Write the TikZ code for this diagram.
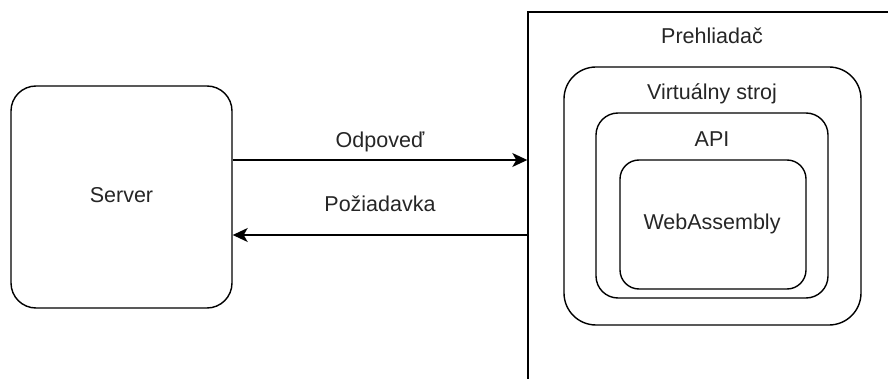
\documentclass[tikz,border=0pt]{standalone}
\usepackage{fontspec}
\setmainfont{Liberation Sans}
\usetikzlibrary{arrows.meta}
\begin{document}
\begin{tikzpicture}[x=1pt,y=-1pt,
  box/.style={draw=black,line width=1.4pt,fill=white,inner sep=0pt,rectangle},
  txt/.style={inner sep=0pt,anchor=base,font=\fontsize{21.5}{24}\selectfont,text=black!85},
  arr/.style={line width=1.4pt,-{Stealth[length=15pt,width=14pt,inset=4pt]}}]
\useasboundingbox (0,0) rectangle (888,379);
\clip (0,0) rectangle (888,379);
\fill[white] (0,0) rectangle (888,379);
% boxes
\node[box,rounded corners=25pt,minimum width=221pt,minimum height=222pt] (server) at (121.5,197) {};
\node[box,minimum width=392pt,minimum height=408pt] (browser) at (724,216) {};
\node[box,rounded corners=32pt,minimum width=297pt,minimum height=258pt] (vm) at (712.5,196) {};
\node[box,rounded corners=22pt,minimum width=232pt,minimum height=185pt] (api) at (712,205.5) {};
\node[box,rounded corners=19pt,minimum width=186pt,minimum height=129pt] (wasm) at (713,224.5) {};
% texts
\node[txt] (tserver) at (121.5,203) {Server};
\node[txt] (tbrowser) at (712,44) {Prehliadač};
\node[txt] (tvm) at (712,100) {Virtuálny stroj};
\node[txt] (tapi) at (712,147) {API};
\node[txt] (twasm) at (712,230) {WebAssembly};
% arrows
\draw[arr] ([yshift=37pt]server.east) coordinate (a1) -- (a1 -| browser.west) coordinate (b1);
\draw[arr] ([yshift=-38pt]server.east -| browser.west) coordinate (b2) -- ([yshift=-38pt]server.east) coordinate (a2);
\node[txt] (todp) at (380,148) {Odpoveď};
\node[txt] (tpoz) at (380,212) {Požiadavka};
\end{tikzpicture}
\end{document}
